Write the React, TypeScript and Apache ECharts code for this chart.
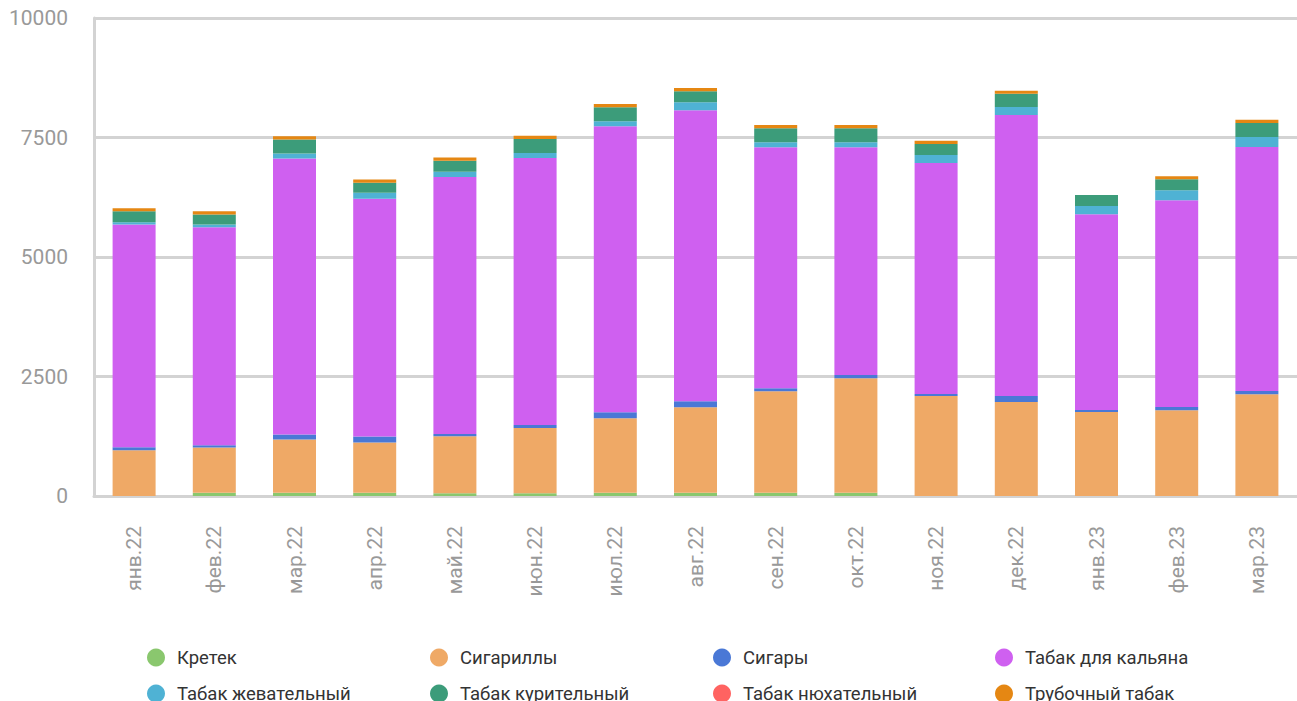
import React, { useEffect, useRef } from "react";
import * as echarts from "echarts";

const categories = ["янв.22", "фев.22", "мар.22", "апр.22", "май.22", "июн.22", "июл.22", "авг.22", "сен.22", "окт.22", "ноя.22", "дек.22", "янв.23", "фев.23", "мар.23"];

const seriesNames = ["Кретек", "Сигариллы", "Сигары", "Табак для кальяна", "Табак жевательный", "Табак курительный", "Табак нюхательный", "Трубочный табак"];

const kretek = [0, 70, 70, 70, 55, 55, 70, 70, 70, 70, 0, 0, 0, 0, 0];
const sigarilly = [955, 945, 1110, 1050, 1195, 1365, 1555, 1785, 2120, 2395, 2090, 1965, 1755, 1795, 2130];
const sigary = [65, 45, 105, 125, 45, 65, 125, 125, 65, 65, 45, 125, 45, 65, 65];
const kalyan = [4660, 4565, 5775, 4975, 5380, 5585, 5985, 6090, 5040, 4765, 4830, 5880, 4095, 4325, 5105];
const zhevatelny = [45, 55, 105, 125, 110, 105, 105, 170, 105, 105, 170, 170, 170, 210, 210];
const kuritelny = [230, 210, 295, 210, 230, 295, 295, 230, 295, 295, 230, 275, 230, 230, 295];
const nyuhatelny = [0, 0, 0, 0, 0, 0, 0, 0, 0, 0, 0, 0, 0, 0, 0];
const trubochny = [65, 65, 65, 65, 65, 65, 65, 65, 65, 65, 65, 65, 0, 65, 65];

const seriesValues = [kretek, sigarilly, sigary, kalyan, zhevatelny, kuritelny, nyuhatelny, trubochny];
const colors = ["#8AC76E", "#EFA966", "#4A78D6", "#CF60F0", "#4FB2D4", "#3C9C7A", "#FF6361", "#E58713"];

const yTicks = [0, 2500, 5000, 7500, 10000];

const legendCols = [147, 430, 713, 995];
const legendRows = [648, 684];

export default function App() {
  const ref = useRef<HTMLDivElement>(null);
  useEffect(() => {
    if (!ref.current) return;
    const chart = echarts.init(ref.current, null, { renderer: "svg" });
    const font = "Roboto, 'Noto Sans', sans-serif";
    const legends = seriesNames.map((name, i) => ({
      data: [name],
      left: legendCols[i % 4],
      top: legendRows[Math.floor(i / 4)],
      padding: 0,
      itemWidth: 18,
      itemHeight: 18,
      icon: "circle",
      selectedMode: false,
      textStyle: { fontFamily: font, fontSize: 18.5, color: "#333", padding: [0, 0, 0, 7] },
    }));
    chart.setOption({
      animation: false,
      color: colors,
      textStyle: { fontFamily: font },
      legend: legends,
      grid: { left: 94, top: 18, width: 1212, height: 478, containLabel: false },
      xAxis: {
        type: "category",
        data: categories,
        axisLine: { show: true, lineStyle: { color: "#d3d3d3", width: 3 } },
        axisTick: { show: false },
        axisLabel: { rotate: 90, margin: 30, fontSize: 21, color: "#999", fontFamily: font, interval: 0 },
      },
      yAxis: {
        type: "value",
        min: yTicks[0],
        max: yTicks[yTicks.length - 1],
        interval: 2500,
        axisLine: { show: true, lineStyle: { color: "#d3d3d3", width: 3 } },
        axisTick: { show: false },
        splitLine: { show: true, lineStyle: { color: "#d3d3d3", width: 3 } },
        axisLabel: { fontSize: 21, color: "#999", margin: 26, fontFamily: font, formatter: (v: number) => String(v) },
      },
      series: seriesNames.map((name, i) => ({
        name,
        type: "bar",
        stack: "total",
        data: seriesValues[i],
        barWidth: 43,
        itemStyle: { color: colors[i] },
      })),
    });
    return () => chart.dispose();
  }, []);
  return (
    <div style={{ position: "fixed", left: 0, top: 0, width: 1297, height: 701, overflow: "hidden", background: "#fff" }}>
      <div ref={ref} style={{ width: 1297, height: 701 }} />
    </div>
  );
}
